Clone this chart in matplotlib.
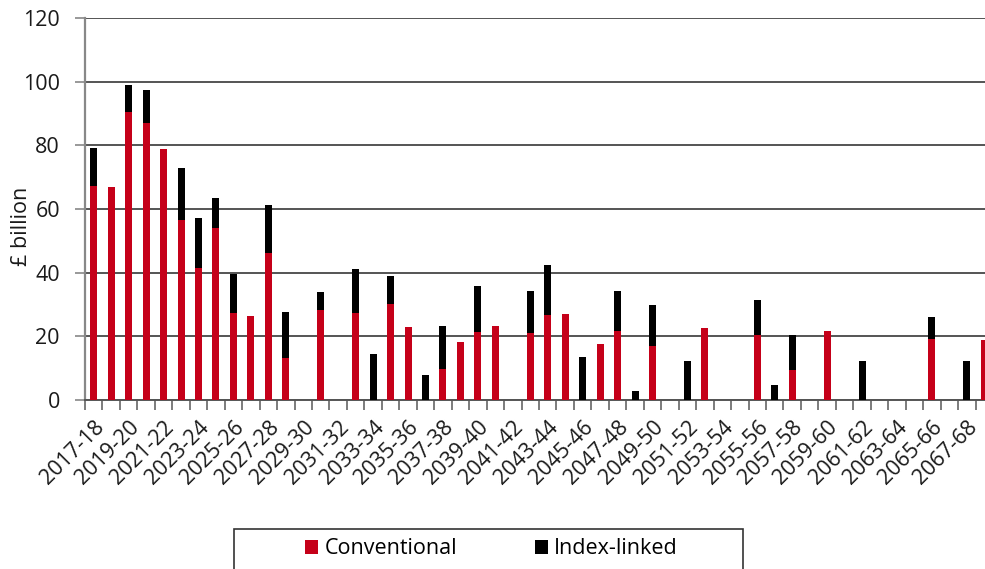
import matplotlib
matplotlib.use("Agg")
import matplotlib.pyplot as plt
from matplotlib.patches import Rectangle
import numpy as np

plt.rcParams['font.family'] = ['Open Sans', 'DejaVu Sans']

years = ["2017-18", "2018-19", "2019-20", "2020-21", "2021-22", "2022-23", "2023-24",
         "2024-25", "2025-26", "2026-27", "2027-28", "2028-29", "2029-30", "2030-31",
         "2031-32", "2032-33", "2033-34", "2034-35", "2035-36", "2036-37", "2037-38",
         "2038-39", "2039-40", "2040-41", "2041-42", "2042-43", "2043-44", "2044-45",
         "2045-46", "2046-47", "2047-48", "2048-49", "2049-50", "2050-51", "2051-52",
         "2052-53", "2053-54", "2054-55", "2055-56", "2056-57", "2057-58", "2058-59",
         "2059-60", "2060-61", "2061-62", "2062-63", "2063-64", "2064-65", "2065-66",
         "2066-67", "2067-68", "2068-69"]

conventional = [67.1, 67.0, 90.6, 86.9, 79.0, 56.6, 41.6, 53.9, 27.3, 26.4,
                46.1, 13.2, 0.0, 28.4, 0.0, 27.4, 0.0, 30.3, 22.8, 0.0,
                9.6, 18.2, 21.3, 23.2, 0.0, 20.9, 26.6, 27.1, 0.0, 17.7,
                21.6, 0.0, 17.1, 0.0, 0.0, 22.6, 0.0, 0.0, 20.3, 0.0,
                9.3, 0.0, 21.8, 0.0, 0.0, 0.0, 0.0, 0.0, 19.1, 0.0,
                0.0, 18.8]

index_linked = [12.1, 0.0, 8.4, 10.5, 0.0, 16.4, 15.7, 9.5, 12.4, 0.0,
                15.0, 14.6, 0.0, 5.5, 0.0, 13.6, 14.3, 8.6, 0.0, 7.8,
                13.6, 0.0, 14.4, 0.0, 0.0, 13.3, 15.9, 0.0, 13.4, 0.0,
                12.6, 2.7, 12.8, 0.0, 12.4, 0.0, 0.0, 0.0, 11.0, 4.7,
                11.0, 0.0, 0.0, 0.0, 12.3, 0.0, 0.0, 0.0, 7.1, 0.0,
                12.4, 0.0]

yticks = [0, 20, 40, 60, 80, 100, 120]

RED = '#C50019'
BLACK = '#000000'
FS = 15.5

fig = plt.figure(figsize=(9.85, 5.69), dpi=100)
W, H = 985, 569
ax = fig.add_axes([85 / W, 1 - 400 / H, (993 - 85) / W, (400 - 18) / H])

x = np.arange(len(years))
ax.bar(x, conventional, width=0.4, color=RED, label='Conventional', zorder=3)
ax.bar(x, index_linked, width=0.4, bottom=conventional, color=BLACK,
       label='Index-linked', zorder=3)

ax.set_xlim(-0.5, len(years) - 0.5)
ax.set_ylim(0, 120)
ax.set_yticks(yticks)
ax.set_yticklabels([str(v) for v in yticks], fontsize=FS, color='#1a1a1a')
ax.tick_params(axis='y', length=7, width=1.2, color='#888888', pad=11)

ax.yaxis.grid(True, color='#262626', linewidth=1.1, zorder=0)
ax.set_axisbelow(True)

# category boundary ticks
ax.set_xticks(np.arange(-0.5, len(years), 1))
ax.set_xticklabels([])
ax.tick_params(axis='x', which='major', length=7, width=1.2, color='#666666')
# labels at every other category centre
ax.set_xticks(x[::2], minor=True)
ax.set_xticklabels(years[::2], minor=True, rotation=45, ha='right',
                   rotation_mode='anchor', fontsize=FS, color='#1a1a1a')
ax.tick_params(axis='x', which='minor', length=0, pad=12)

for s in ['top', 'right']:
    ax.spines[s].set_visible(False)
ax.spines['left'].set_color('#888888')
ax.spines['left'].set_linewidth(1.6)
ax.spines['bottom'].set_color('#555555')
ax.spines['bottom'].set_linewidth(1.4)

ax.set_ylabel('£ billion', fontsize=FS, color='#1a1a1a')
ax.yaxis.set_label_coords((32 - 85) / (993 - 85), (400 - 226) / (400 - 18))

# legend
leg = fig.legend(loc='center', bbox_to_anchor=(491.5 / W, 1 - 549 / H),
                 ncol=2, frameon=False, fontsize=FS, handlelength=0.6,
                 handleheight=0.6, handletextpad=0.3, columnspacing=3.6,
                 borderpad=0, borderaxespad=0)
frame = Rectangle((234 / W, -0.05), (743 - 234) / W, 0.05 + 1 - 529 / H,
                  transform=fig.transFigure, fill=False, edgecolor='#333333',
                  linewidth=1.2)
fig.patches.append(frame)

fig.savefig('out.png', dpi=100)
